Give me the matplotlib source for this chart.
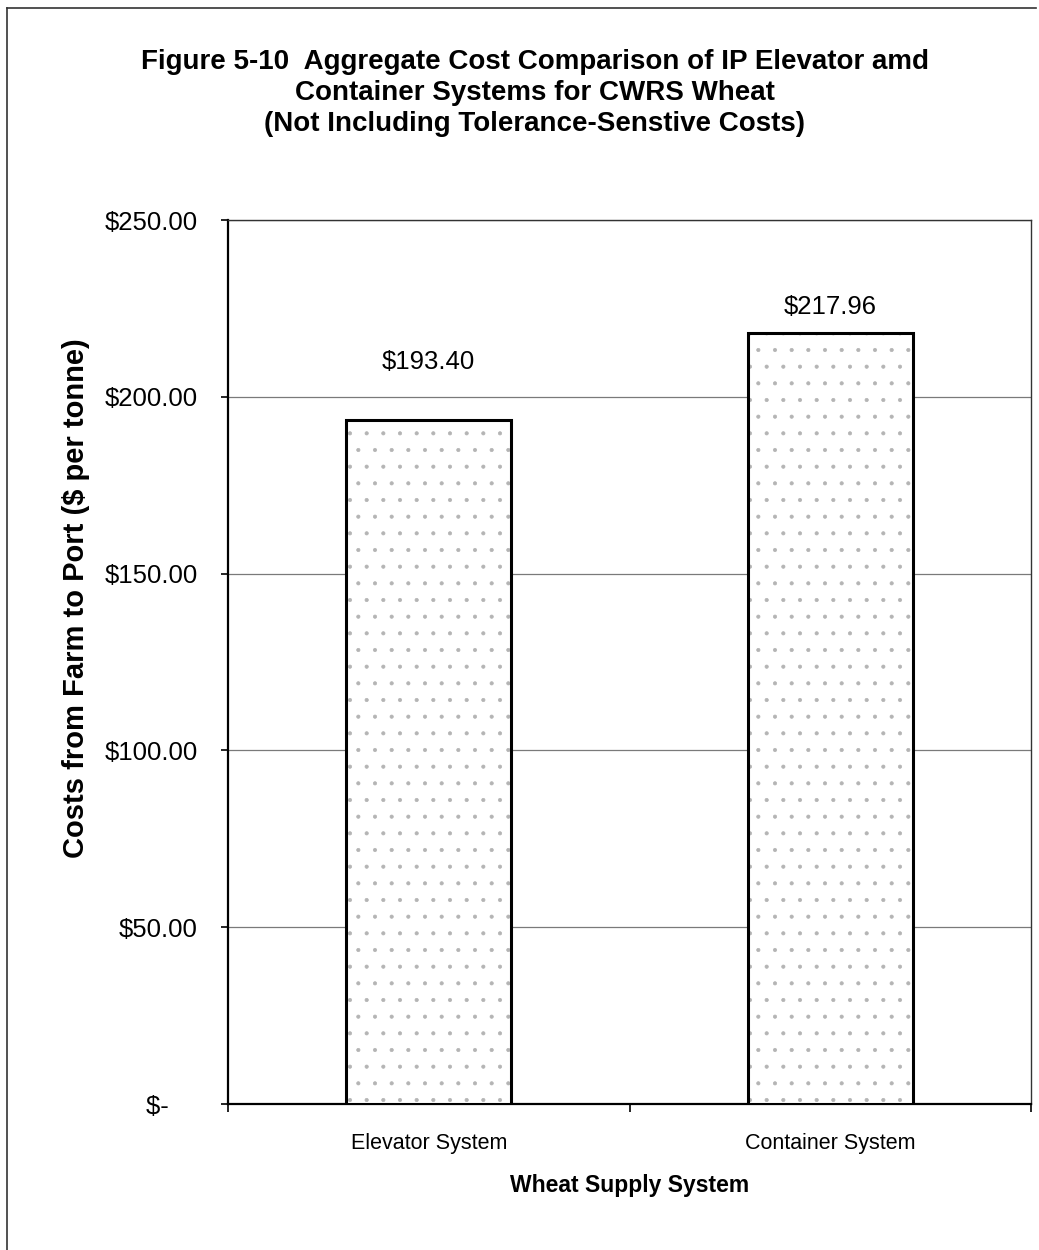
# -*- coding: utf-8 -*-
"""
aggregate cost comparison bar chart, elevator vs container systems
"""
import numpy as np
import matplotlib
matplotlib.use('agg')
import matplotlib.pyplot as plt
from matplotlib.lines import Line2D

# data
systems = ['Elevator System', 'Container System']
costs = [193.40, 217.96]
yticks = [0, 50, 100, 150, 200, 250]
ytick_labels = ['$-    ', '$50.00', '$100.00', '$150.00', '$200.00', '$250.00']

title_lines = ['Figure 5-10  Aggregate Cost Comparison of IP Elevator amd',
               'Container Systems for CWRS Wheat',
               '(Not Including Tolerance-Senstive Costs)']

plt.rcParams['font.family'] = ['Liberation Sans', 'DejaVu Sans']
plt.rcParams['hatch.linewidth'] = 0.5

fig = plt.figure(figsize=(10.39, 12.5), dpi=100)
ax = fig.add_axes([228/1039, 1-1104/1250, (1031-228)/1039, (1104-220)/1250])

x = np.arange(len(systems))
# speckled fill first, then the black outline on top
ax.bar(x, costs, width=0.41, color='white', edgecolor='#b4b4b4',
       linewidth=0, hatch='.', zorder=3)
ax.bar(x, costs, width=0.41, fill=False, edgecolor='black',
       linewidth=2.2, zorder=4)

# value labels above each bar (offset in points)
label_offsets = [42, 19]
for xi, c, off in zip(x, costs, label_offsets):
    ax.annotate('${:.2f}'.format(c), (xi, c), xytext=(0, off),
                textcoords='offset points', ha='center', va='center',
                fontsize=18.5)

ax.set_xlim(-0.5, 1.5)
ax.set_ylim(0, 250)
ax.set_yticks(yticks)
ax.set_yticklabels(ytick_labels, fontsize=18.5)
ax.yaxis.grid(True, color='#7a7a7a', linewidth=0.9, zorder=0)
ax.set_axisbelow(True)
ax.tick_params(axis='y', direction='out', length=5, width=1.2, pad=17)

ax.set_xticks(x)
ax.set_xticklabels(systems, fontsize=15.5)
ax.set_xticks([-0.5, 0.5, 1.5], minor=True)
ax.tick_params(axis='x', which='major', length=0, pad=21)
ax.tick_params(axis='x', which='minor', direction='out', length=6, width=1.2)

for side in ['left', 'bottom']:
    ax.spines[side].set_linewidth(1.6)
    ax.spines[side].set_color('black')
for side in ['top', 'right']:
    ax.spines[side].set_linewidth(1.0)
    ax.spines[side].set_color('#333333')

ax.set_xlabel('Wheat Supply System', fontsize=16.5, fontweight='bold', labelpad=14)
fig.text(76/1039, 1-598/1250, 'Costs from Farm to Port ($ per tonne)',
         rotation=90, ha='center', va='center', fontsize=21, fontweight='bold')

# three-line title
fig.text(535/1039, 1-93/1250, '\n'.join(title_lines), ha='center', va='center',
         fontsize=20, fontweight='bold', linespacing=1.27)

# page frame lines
fig.add_artist(Line2D([7/1039, 7/1039], [0, 1-8/1250], transform=fig.transFigure,
                      color='#333333', linewidth=1.2))
fig.add_artist(Line2D([7/1039, 1036/1039], [1-8/1250, 1-8/1250], transform=fig.transFigure,
                      color='#333333', linewidth=1.2))

plt.savefig('out.png', dpi=100)
